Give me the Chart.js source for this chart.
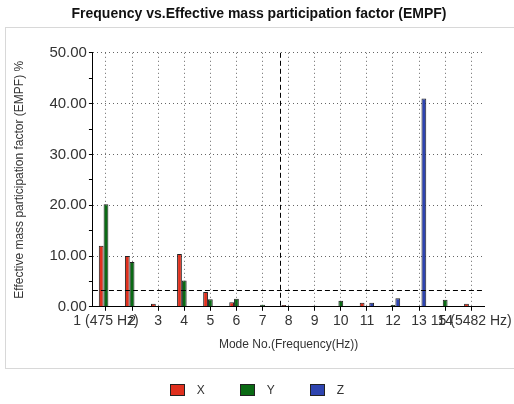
<!DOCTYPE html>
<html>
<head>
<meta charset="utf-8">
<script src="https://cdn.jsdelivr.net/npm/chart.js@4"></script>
<style>
  html, body { margin: 0; padding: 0; background: #fff; }
  #wrap { position: relative; width: 514px; height: 404px; }
  #legend {
    position: absolute; left: 0; right: 0; top: 383px;
    display: flex; justify-content: center; gap: 35px;
    font: 12px Arial, "Liberation Sans", sans-serif; color: #333;
  }
  #legend .item { display: flex; align-items: center; }
  #legend .box { width: 13px; height: 10px; border: 1px solid #222; margin-right: 12px; }
</style>
</head>
<body>
<div id="wrap">
  <canvas id="empf_chart" width="514" height="404"></canvas>
  <div id="legend"></div>
</div>
<script>
const modes = ['1 (475 Hz)', '2', '3', '4', '5', '6', '7', '8', '9', '10', '11', '12', '13', '14', '15 (5482 Hz)'];
const xValues = [12.0, 10.0, 0.6, 10.4, 2.9, 0.9, 0.1, 0.35, 0.05, 0.05, 0.8, 0.1, 0, 0.1, 0.6];
const yValues = [20.2, 8.8, 0.05, 5.2, 1.5, 1.6, 0.4, 0.05, 0.2, 1.2, 0.15, 0.35, 0, 1.4, 0.15];
const zValues = [0, 0, 0, 0, 0, 0, 0, 0, 0, 0, 0.8, 1.7, 41.0, 0, 0];
const yTicks = [0, 10, 20, 30, 40, 50];
const cutoffLevel = 3.33;   // horizontal dashed line, %
const cutoffMode = 6.67;    // vertical dashed line, category index

const fontFamily = 'Arial, "Liberation Sans", sans-serif';

const panelAndLines = {
    id: 'panelAndLines',
    beforeDraw(chart) {
        const ctx = chart.ctx;
        ctx.save();
        ctx.strokeStyle = '#d8d8d8';
        ctx.lineWidth = 1;
        ctx.strokeRect(5.5, 27.5, 520, 341);
        ctx.restore();
    },
    afterDatasetsDraw(chart) {
        const {ctx, chartArea, scales} = chart;
        const yPix = scales.y.getPixelForValue(cutoffLevel);
        const xPix = scales.x.getPixelForValue(cutoffMode);
        ctx.save();
        ctx.strokeStyle = '#000';
        ctx.lineWidth = 1;
        ctx.setLineDash([5, 3]);
        ctx.beginPath();
        ctx.moveTo(chartArea.left, Math.round(yPix) + 0.5);
        ctx.lineTo(chartArea.right, Math.round(yPix) + 0.5);
        ctx.moveTo(Math.round(xPix) + 0.5, chartArea.top);
        ctx.lineTo(Math.round(xPix) + 0.5, chartArea.bottom);
        ctx.stroke();
        ctx.restore();
    }
};

const chart = new Chart(document.getElementById('empf_chart'), {
    type: 'bar',
    data: {
        labels: modes,
        datasets: [
            { label: 'X', data: xValues, backgroundColor: '#e0301e', borderColor: '#222', borderWidth: 1 },
            { label: 'Y', data: yValues, backgroundColor: '#0a6a14', borderColor: '#222', borderWidth: 1 },
            { label: 'Z', data: zValues, backgroundColor: '#2e44b0', borderColor: '#222', borderWidth: 1 }
        ]
    },
    plugins: [panelAndLines],
    options: {
        responsive: false,
        animation: false,
        layout: { padding: { left: 12, right: 8, top: 0, bottom: 32 } },
        datasets: {
            bar: { categoryPercentage: 0.55, barPercentage: 1 }
        },
        plugins: {
            title: {
                display: true,
                text: 'Frequency vs.Effective mass participation factor (EMPF)',
                color: '#111',
                font: { family: fontFamily, size: 14, weight: 'bold' },
                padding: { top: 6, bottom: 30 }
            },
            legend: { display: false },
            tooltip: { enabled: false }
        },
        scales: {
            x: {
                grid: {
                    offset: false,
                    color: '#666',
                    tickColor: '#000',
                    tickLength: 4
                },
                border: { display: true, color: '#000', dash: [1, 3] },
                ticks: {
                    autoSkip: false,
                    maxRotation: 0,
                    minRotation: 0,
                    color: '#333',
                    padding: 2,
                    font: { family: fontFamily, size: 14 }
                },
                title: {
                    display: true,
                    text: 'Mode No.(Frequency(Hz))',
                    color: '#333',
                    font: { family: fontFamily, size: 12 },
                    padding: { top: 6, bottom: 20 }
                }
            },
            y: {
                min: 0,
                max: 50,
                grid: {
                    color: ctx => (yTicks.includes(ctx.tick && ctx.tick.value) ? '#666' : 'transparent'),
                    tickColor: '#000',
                    tickLength: 4
                },
                border: { display: true, color: '#000', dash: [1, 3] },
                ticks: {
                    stepSize: 5,
                    color: '#333',
                    padding: 2,
                    font: { family: fontFamily, size: 15 },
                    callback: v => (yTicks.includes(v) ? v.toFixed(2) : '')
                },
                title: {
                    display: true,
                    text: 'Effective mass participation factor (EMPF) %',
                    color: '#333',
                    font: { family: fontFamily, size: 12 },
                    padding: { top: 0, bottom: 21 }
                }
            }
        }
    }
});

// legend built from the chart's own datasets
const legendEl = document.getElementById('legend');
chart.data.datasets.forEach(ds => {
    const item = document.createElement('div');
    item.className = 'item';
    const box = document.createElement('span');
    box.className = 'box';
    box.style.background = ds.backgroundColor;
    const txt = document.createElement('span');
    txt.textContent = ds.label;
    item.appendChild(box);
    item.appendChild(txt);
    legendEl.appendChild(item);
});
</script>
</body>
</html>
